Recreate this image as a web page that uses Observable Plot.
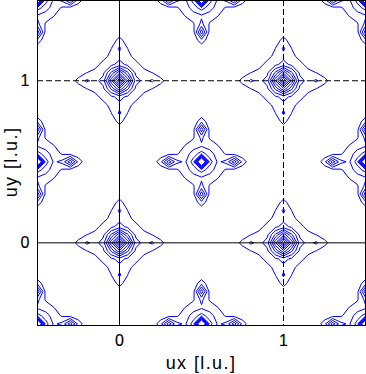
<!DOCTYPE html>
<html><head><meta charset="utf-8">
<script src="https://cdn.jsdelivr.net/npm/d3@7"></script>
<script src="https://cdn.jsdelivr.net/npm/@observablehq/plot@0.6"></script>
<style>body{margin:0;background:#fff}</style>
</head><body><div id="chart"></div>
<script>
// ---- axes / annotations ----
const xTicks = [0, 1];
const yTicks = [0, 1];
const solidRules = [0];
const dashedRules = [1];
const xLabel = "ux [l.u.]";
const yLabel = "uy [l.u.]";

// ---- sampled map ----
const gridStep = 0.05;
const gridMin = -0.6;
const gridMax = 1.6;
const levels = [1, 2, 3, 4, 5, 6, 7, 8, 9, 10];

// ---- peaks ----
const cornerX = [-1, 0, 1, 2];
const cornerY = [-1, 0, 1, 2];
const centerX = [-0.5, 0.5, 1.5];
const centerY = [-0.5, 0.5, 1.5];
const satelliteShift = 0.2;
const satelliteDirs = [[1, 0], [-1, 0], [0, 1], [0, -1]];

// peak profiles: [amplitude, width(s)]
const cornerCore = [8.6, 0.045];
const cornerDiffuse = [2.56, 0.213];
const cornerSatellite = [1.1, 0.03, 0.024];
const centerSpike = [12.7, 0.021];
const centerBase = [3.1, 0.09];
const centerSatellite = [4.3, 0.0334, 0.021];

function gauss(dx, dy, sx, sy) {
  return Math.exp(-(dx * dx) / (2 * sx * sx) - (dy * dy) / (2 * sy * sy));
}
function satellites(x, y, px, py, p) {
  let v = 0;
  for (const [ux, uy] of satelliteDirs) {
    const dx = x - (px + ux * satelliteShift), dy = y - (py + uy * satelliteShift);
    v += ux !== 0 ? p[0] * gauss(dx, dy, p[1], p[2]) : p[0] * gauss(dx, dy, p[2], p[1]);
  }
  return v;
}
function field(x, y) {
  let v = 0;
  for (const px of cornerX) for (const py of cornerY) {
    const dx = x - px, dy = y - py;
    v += cornerCore[0] * gauss(dx, dy, cornerCore[1], cornerCore[1]);
    v += cornerDiffuse[0] * Math.exp(-(Math.abs(dx) + Math.abs(dy)) / cornerDiffuse[1]);
    v += satellites(x, y, px, py, cornerSatellite);
  }
  for (const px of centerX) for (const py of centerY) {
    const dx = x - px, dy = y - py;
    v += centerSpike[0] * gauss(dx, dy, centerSpike[1], centerSpike[1]);
    v += centerBase[0] * gauss(dx, dy, centerBase[1], centerBase[1]);
    v += satellites(x, y, px, py, centerSatellite);
  }
  return v;
}
const N = Math.round((gridMax - gridMin) / gridStep) + 1;
const values = [];
for (let j = 0; j < N; j++) for (let i = 0; i < N; i++) {
  values.push(field(gridMin + i * gridStep, gridMin + j * gridStep));
}

const chart = Plot.plot({
  width: 366, height: 374,
  marginLeft: 37, marginRight: 1, marginTop: 0, marginBottom: 49,
  x: {domain: [-0.5, 1.5], label: null},
  y: {domain: [-0.51, 1.495], label: null},
  style: {fontFamily: "'Liberation Sans', Arial, sans-serif", fontSize: "16px", background: "white", color: "black"},
  marks: [
    Plot.contour(values, {
      x1: gridMin - gridStep / 2, x2: gridMax + gridStep / 2,
      y1: gridMin - gridStep / 2, y2: gridMax + gridStep / 2,
      width: N, height: N, thresholds: levels,
      stroke: "#0000ff", fill: "none", strokeWidth: 1, clip: true
    }),
    Plot.ruleX(solidRules, {stroke: "black"}),
    Plot.ruleX(dashedRules, {stroke: "black", strokeDasharray: "6,3"}),
    Plot.ruleY(solidRules, {stroke: "black"}),
    Plot.ruleY(dashedRules, {stroke: "black", strokeDasharray: "6,3"}),
    Plot.frame({stroke: "black"}),
    Plot.axisX(xTicks, {tickSize: 0, tickPadding: 9, fontSize: 16, tickFormat: d3.format("d"), label: null}),
    Plot.axisY(yTicks, {tickSize: 0, tickPadding: 8, fontSize: 16, tickFormat: d3.format("d"), label: null})
  ]
});
document.getElementById("chart").appendChild(chart);
const svg = d3.select(chart);
svg.selectAll("g[aria-label*='tick label'] text").attr("stroke", "black").attr("stroke-width", 0.15);
svg.append("text").attr("x", 201).attr("y", 369).attr("text-anchor", "middle")
  .attr("font-size", 18).attr("letter-spacing", 1.4).attr("fill", "black").text(xLabel);
svg.append("text").attr("transform", "translate(17,162) rotate(-90)").attr("text-anchor", "middle")
  .attr("font-size", 18).attr("letter-spacing", 1.4).attr("fill", "black").text(yLabel);
</script>
</body></html>
